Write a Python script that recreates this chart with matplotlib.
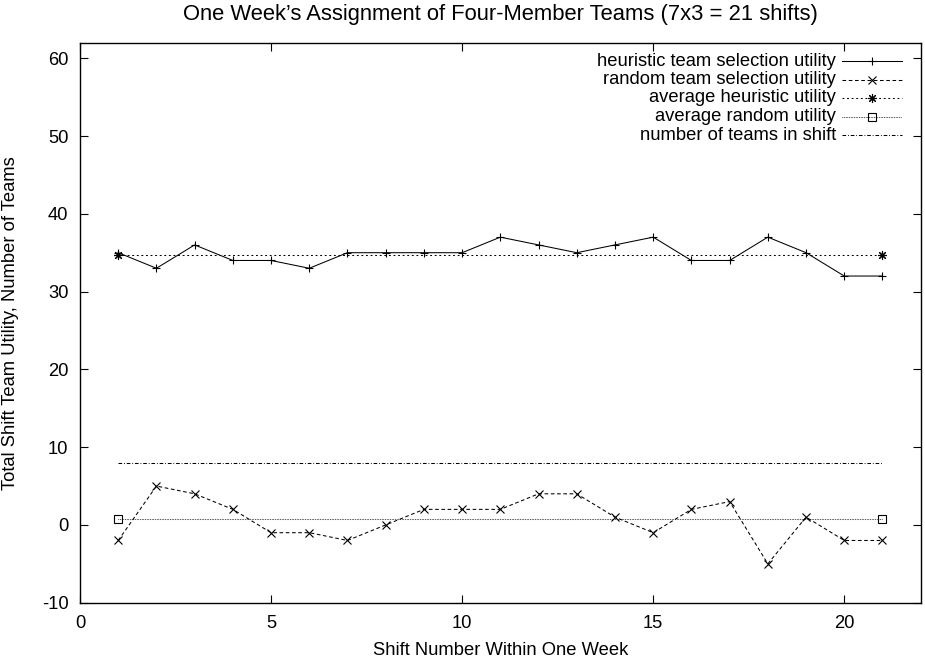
import matplotlib
matplotlib.use('Agg')
import matplotlib.pyplot as plt

plt.rcParams['font.family'] = ['Liberation Sans', 'DejaVu Sans']
plt.rcParams['font.size'] = 13.2
plt.rcParams['axes.unicode_minus'] = False

# data
shifts = list(range(1, 22))
heuristic = [35, 33, 36, 34, 34, 33, 35, 35, 35, 35, 37, 36, 35, 36, 37, 34, 34, 37, 35, 32, 32]
random_sel = [-2, 5, 4, 2, -1, -1, -2, 0, 2, 2, 2, 4, 4, 1, -1, 2, 3, -5, 1, -2, -2]
avg_x = [1, 21]
avg_heuristic = [34.76, 34.76]
avg_random = [0.76, 0.76]
teams = [8, 8]
labels = ['heuristic team selection utility', 'random team selection utility',
          'average heuristic utility', 'average random utility',
          'number of teams in shift']

lw = 0.75
styles = [
    dict(ls='-', marker='+', ms=6.2, mew=0.8),
    dict(ls=(0, (3.5, 2.5)), marker='x', ms=6.2, mew=0.8),
    dict(ls=(0, (1.8, 2.6)), marker=(8, 2, 0), ms=6.5, mew=0.8),
    dict(ls=(0, (0.6, 1.0)), marker='s', ms=6, mew=0.8, mfc='none'),
    dict(ls=(0, (3.5, 1.8, 0.8, 1.8)), marker=None),
]

fig = plt.figure(figsize=(9.25, 6.62), dpi=100)
ax = fig.add_axes([80 / 925, 1 - 602.7 / 662, 840.7 / 925, 560 / 662])

series = [(shifts, heuristic), (shifts, random_sel), (avg_x, avg_heuristic),
          (avg_x, avg_random), (avg_x, teams)]
for (xs, ys), st in zip(series, styles):
    ax.plot(xs, ys, color='black', lw=lw, **st)

ax.set_xlim(0, 22)
ax.set_ylim(-10, 62)
ax.set_xticks([0, 5, 10, 15, 20])
ax.set_yticks(range(-10, 61, 10))
ax.tick_params(direction='in', length=5.8, width=0.8, top=True, right=True)
ax.tick_params(axis='y', pad=8.4)
ax.tick_params(axis='x', pad=8.6)
for s in ax.spines.values():
    s.set_linewidth(1.0)

ax.set_xlabel('Shift Number Within One Week')
ax.xaxis.set_label_coords(0.5, -0.070)
ax.set_ylabel('Total Shift Team Utility, Number of Teams')
ax.yaxis.set_label_coords(-0.0727, 0.5)
ax.set_title("One Week\u2019s Assignment of Four-Member Teams (7x3 = 21 shifts)", pad=16.7)

# legend drawn by hand, gnuplot style (text right aligned, sample on the right)
W, H = 840.7, 560.0
x_text = (836 - 80) / W
x0, x1 = (842 - 80) / W, (902 - 80) / W
rows = [61, 79.5, 98, 116.5, 135]
for lab, st, py in zip(labels, styles, rows):
    y = (602.7 - py) / H
    ax.text(x_text, y, lab, transform=ax.transAxes, ha='right', va='center')
    ax.plot([x0, (x0 + x1) / 2, x1], [y, y, y], transform=ax.transAxes,
            color='black', lw=lw, markevery=[1], clip_on=False, **st)

fig.savefig('out.png', dpi=100)
